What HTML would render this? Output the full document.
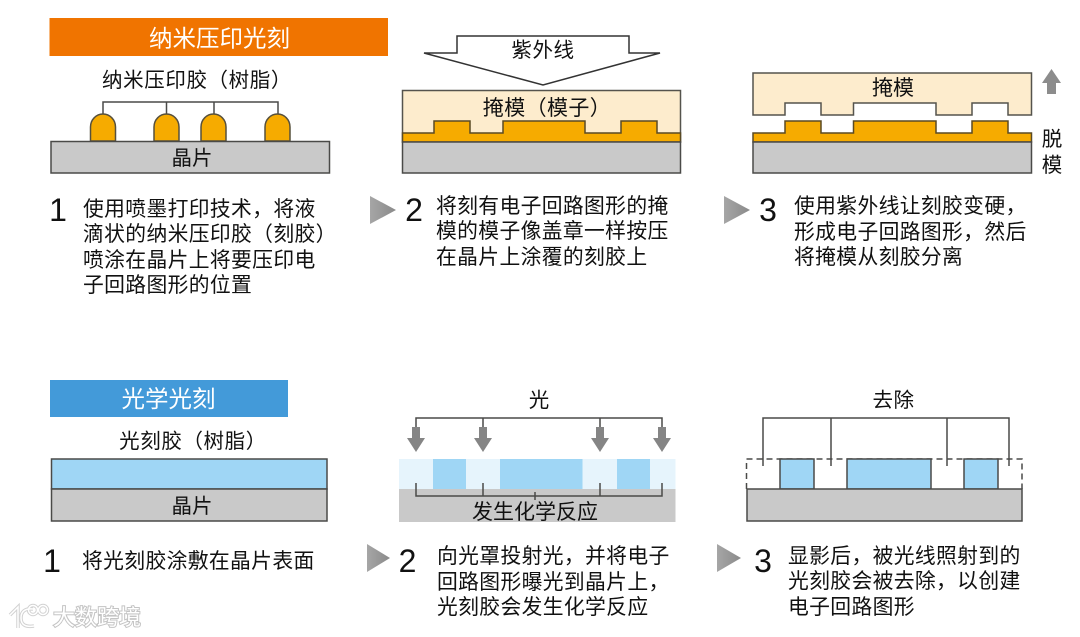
<!DOCTYPE html>
<html lang="zh"><head><meta charset="utf-8">
<style>
html,body{margin:0;padding:0;background:#fff;width:1080px;height:637px;overflow:hidden}
svg{display:block}
text{font-family:"Liberation Sans","Noto Sans CJK SC",sans-serif;fill:#111}
.b{font-size:20.8px;letter-spacing:.35px}
.l{font-size:20.5px}
.m{text-anchor:middle}
.n{font-size:32px;text-anchor:middle}
.o{stroke:#4a4a48;stroke-width:1.5;fill:none}
</style></head><body>
<svg width="1080" height="637" viewBox="0 0 1080 637" xmlns="http://www.w3.org/2000/svg">
<defs>
<linearGradient id="g" x1="0" x2="1" y1="0" y2="0"><stop offset="0" stop-color="#a6a6a6"/><stop offset="1" stop-color="#8a8a8a"/></linearGradient>
</defs>
<rect width="1080" height="637" fill="#fff"/>

<!-- Panel 1 top -->
<rect x="49.5" y="18" width="338.5" height="38" fill="#f07400"/>
<text x="219.5" y="46.5" class="m" style="font-size:23.5px;fill:#fff">纳米压印光刻</text>
<text x="197" y="87" class="m l" style="letter-spacing:.6px">纳米压印胶（树脂）</text>
<path class="o" d="M103 114V102H278V114M166.500 102V114M214 102V114"/>
<g fill="#f6ab00" stroke="#57503c" stroke-width="1.500">
<path d="M90.500 141V127a12.500 13 0 0 1 25 0V141Z"/>
<path d="M154 141V127a12.500 13 0 0 1 25 0V141Z"/>
<path d="M201 141V127a12.500 13 0 0 1 25 0V141Z"/>
<path d="M265 141V127a12.500 13 0 0 1 25 0V141Z"/>
</g>
<rect x="51" y="141.500" width="278.500" height="31.500" fill="#c9c9c9" stroke="#4a4a48" stroke-width="1.500"/>
<text x="192" y="165" class="m" style="font-size:20.500px">晶片</text>

<text x="58" y="221" class="n">1</text>
<text class="b"><tspan x="83" y="216">使用喷墨打印技术，将液</tspan><tspan x="83" y="241">滴状的纳米压印胶（刻胶）</tspan><tspan x="83" y="267">喷涂在晶片上将要压印电</tspan><tspan x="83" y="292">子回路图形的位置</tspan></text>

<!-- Panel 2 top -->
<path d="M457 36H629V53H660L543 85L424 53H457Z" fill="#fff" stroke="#333" stroke-width="1.500"/>
<text x="543" y="57" class="m l" style="letter-spacing:.6px">紫外线</text>
<rect x="402.500" y="90.500" width="278" height="51.500" fill="#fdeccd" stroke="#55534d" stroke-width="1.500"/>
<path d="M402.500 133H434V121H470V133H503V121H585V133H621V121H657V133H680.500V142H402.500Z" fill="#f6ab00" stroke="#5a4a24" stroke-width="1.500"/>
<rect x="402.500" y="142" width="278" height="31" fill="#c9c9c9" stroke="#4a4a48" stroke-width="1.500"/>
<text x="547" y="115" class="m" style="font-size:21px;letter-spacing:.4px">掩模（模子）</text>

<path d="M370 196L396 210L370 224Z" fill="url(#g)"/>
<text x="414" y="221" class="n">2</text>
<text class="b"><tspan x="436" y="213">将刻有电子回路图形的掩</tspan><tspan x="436" y="238">模的模子像盖章一样按压</tspan><tspan x="436" y="264">在晶片上涂覆的刻胶上</tspan></text>

<!-- Panel 3 top -->
<path d="M753 73H1031.500V115H1008V103H972V115H936V103H853.500V115H821V103H785V115H753Z" fill="#fdeccd" stroke="#55534d" stroke-width="1.500"/>
<text x="893" y="95" class="m" style="font-size:21px">掩模</text>
<path d="M753 133H785V121H821V133H853.500V121H936V133H972V121H1008V133H1031.500V142H753Z" fill="#f6ab00" stroke="#5a4a24" stroke-width="1.500"/>
<rect x="753" y="142" width="278.500" height="31" fill="#c9c9c9" stroke="#4a4a48" stroke-width="1.500"/>
<path d="M1051.500 69L1061 83H1056V94H1047V83H1042Z" fill="#8c8c8c"/>
<text x="1052" y="146" class="m l">脱</text>
<text x="1052" y="172" class="m l">模</text>

<path d="M724 196L750 210L724 224Z" fill="url(#g)"/>
<text x="768" y="221" class="n">3</text>
<text class="b"><tspan x="794" y="213">使用紫外线让刻胶变硬，</tspan><tspan x="794" y="239">形成电子回路图形，然后</tspan><tspan x="794" y="264">将掩模从刻胶分离</tspan></text>

<!-- Panel 1 bottom -->
<rect x="50" y="380" width="238" height="37" fill="#439ad9"/>
<text x="168.500" y="407" class="m" style="font-size:23.500px;fill:#fff">光学光刻</text>
<text x="193" y="448" class="m l" style="letter-spacing:.6px">光刻胶（树脂）</text>
<rect x="51.500" y="459" width="275.500" height="30" fill="#9fd6f5" stroke="#4a4a48" stroke-width="1.500"/>
<rect x="51.500" y="489" width="275.500" height="32" fill="#c9c9c9" stroke="#4a4a48" stroke-width="1.500"/>
<text x="192" y="513" class="m" style="font-size:20.500px">晶片</text>
<text x="52" y="572" class="n">1</text>
<text x="82" y="568" class="b">将光刻胶涂敷在晶片表面</text>

<!-- Panel 2 bottom -->
<text x="539" y="407" class="m l">光</text>
<rect x="399" y="459" width="276.500" height="30" fill="#e6f4fc"/>
<rect x="433" y="459" width="33" height="30" fill="#9fd6f5"/>
<rect x="500" y="459" width="82.500" height="30" fill="#9fd6f5"/>
<rect x="617" y="459" width="33" height="30" fill="#9fd6f5"/>
<rect x="399" y="489" width="276.500" height="33" fill="#c9c9c9"/>
<path class="o" d="M416 428V418H662V428M483 418V428M600 418V428"/>
<g fill="#858585">
<path d="M412 427H420V438H425L416 452L407 438H412Z"/>
<path d="M479 427H487V438H492L483 452L474 438H479Z"/>
<path d="M596 427H604V438H609L600 452L591 438H596Z"/>
<path d="M658 427H666V438H671L662 452L653 438H658Z"/>
</g>
<path class="o" d="M416 483V496H662V483M483 483V496M600 483V496M535 492V500"/>
<text x="535" y="519" class="m" style="font-size:21px">发生化学反应</text>

<path d="M367 544L390 558L367 572Z" fill="url(#g)"/>
<text x="407.500" y="572" class="n">2</text>
<text class="b"><tspan x="437" y="563">向光罩投射光，并将电子</tspan><tspan x="437" y="589">回路图形曝光到晶片上，</tspan><tspan x="437" y="614">光刻胶会发生化学反应</tspan></text>

<!-- Panel 3 bottom -->
<text x="893.500" y="407" class="m l" style="letter-spacing:.5px">去除</text>
<path d="M746.500 489V459H1022V489" fill="none" stroke="#4a4a48" stroke-width="1.500" stroke-dasharray="6 4"/>
<path class="o" d="M763 466V418H1009V466M831 418V466M947 418V466"/>
<g fill="#9fd6f5" stroke="#4a4a48" stroke-width="1.500">
<rect x="780" y="459" width="34" height="30"/>
<rect x="847" y="459" width="84" height="30"/>
<rect x="964" y="459" width="34" height="30"/>
</g>
<rect x="747" y="489" width="275" height="32" fill="#c9c9c9" stroke="#4a4a48" stroke-width="1.500"/>

<path d="M717 544L741 558L717 572Z" fill="url(#g)"/>
<text x="763" y="572" class="n">3</text>
<text class="b"><tspan x="788" y="563">显影后，被光线照射到的</tspan><tspan x="788" y="588">光刻胶会被去除，以创建</tspan><tspan x="788" y="614">电子回路图形</tspan></text>

<!-- Watermark -->
<g fill="none" stroke="#d2d2d2" stroke-width="3.500">
<path d="M10 615L18 607V628M33 609Q21 608 21 618Q21 628 34 626"/>
<circle cx="33" cy="610" r="4.500"/><circle cx="43" cy="610" r="4.500"/>
</g>
<g fill="none" stroke="#fff" stroke-width="1.500">
<path d="M10 615L18 607V628M33 609Q21 608 21 618Q21 628 34 626"/>
<circle cx="33" cy="610" r="4.500"/><circle cx="43" cy="610" r="4.500"/>
</g>
<text x="53" y="625" style="font-size:22px;fill:#fff;stroke:#c4c4c4;stroke-width:2px;paint-order:stroke;letter-spacing:0">大数跨境</text>
</svg>
</body></html>
